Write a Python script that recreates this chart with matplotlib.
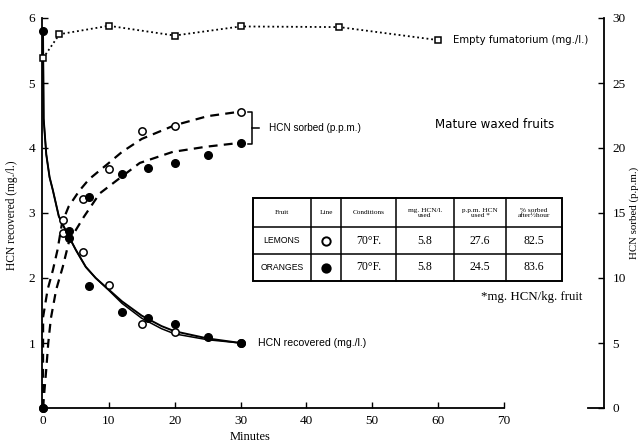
import matplotlib
matplotlib.use("Agg")
import matplotlib.pyplot as plt
from matplotlib.lines import Line2D
from matplotlib.patches import Rectangle

# ---------------- data ----------------
# Empty fumatorium (mg./l.)
t_fum = [0, 2.5, 10, 20, 30, 45, 60]
y_fum = [5.38, 5.75, 5.88, 5.73, 5.87, 5.86, 5.66]

# HCN recovered (mg./l.) - measured points
t_rec_lemon = [3, 6, 10, 15, 20, 30]
y_rec_lemon = [2.69, 2.40, 1.90, 1.29, 1.17, 1.00]
t_rec_orange = [0, 4, 7, 12, 16, 20, 25, 30]
y_rec_orange = [5.80, 2.62, 1.87, 1.48, 1.38, 1.29, 1.09, 1.00]

# HCN recovered - fitted curves
t_rec_curve = [0, 0.1, 0.5, 1, 1.5, 2.4, 3.5, 5, 6.5, 8, 10, 12, 15, 18, 20, 25, 30]
y_rec_curve_orange = [5.8, 4.45, 3.9, 3.55, 3.35, 2.95, 2.72, 2.43, 2.17, 2.0, 1.82,
                      1.64, 1.42, 1.26, 1.18, 1.07, 1.0]
y_rec_curve_lemon = [5.8, 4.45, 3.9, 3.55, 3.35, 2.95, 2.72, 2.43, 2.17, 2.0, 1.81,
                     1.61, 1.38, 1.22, 1.14, 1.05, 1.0]

# HCN sorbed (p.p.m.) - measured points
t_sorb_lemon = [0, 3, 6, 10, 15, 20, 30]
y_sorb_lemon = [0, 14.45, 16.1, 18.35, 21.3, 21.7, 22.8]
t_sorb_orange = [0, 4, 7, 12, 16, 20, 25, 30]
y_sorb_orange = [0, 13.6, 16.25, 18.0, 18.45, 18.85, 19.5, 20.35]

# HCN sorbed - fitted curves
t_sorb_curve_lemon = [0, 0.02, 0.7, 1.5, 2.2, 2.9, 3.9, 5.5, 7, 10, 12, 15, 20, 25, 30]
y_sorb_curve_lemon = [0, 7.0, 9.1, 10.6, 12.15, 14.25, 15.5, 16.7, 17.6, 18.85,
                      19.7, 20.7, 21.75, 22.45, 22.8]
t_sorb_curve_orange = [0, 0.5, 0.8, 1.2, 2.0, 3.0, 3.9, 5.0, 6.2, 8.6, 11.7, 14.7, 19.7, 24.8, 30]
y_sorb_curve_orange = [0, 3.0, 5.0, 6.9, 9.1, 10.85, 12.7, 13.7, 14.7, 16.5, 17.7,
                       18.85, 19.7, 20.1, 20.4]

# Axis ticks
x_ticks = [0, 10, 20, 30, 40, 50, 60, 70]
y_left_ticks = [1, 2, 3, 4, 5, 6]
y_right_ticks = [0, 5, 10, 15, 20, 25, 30]

# Table contents
table_header = ["Fruit", "Line", "Conditions", "mg. HCN/l.\nused",
                "p.p.m. HCN\nused *", "% sorbed\nafter½hour"]
table_fruits = ["LEMONS", "ORANGES"]
table_conditions = ["70°F.", "70°F."]
table_mg_used = ["5.8", "5.8"]
table_ppm_used = ["27.6", "24.5"]
table_pct_sorbed = ["82.5", "83.6"]

# ---------------- figure ----------------
W, H = 639, 443
SERIF = ["Liberation Serif", "DejaVu Serif"]
SANS = ["Liberation Sans", "DejaVu Sans"]
WIDE_SANS = ["DejaVu Sans"]

fig = plt.figure(figsize=(W / 100, H / 100), dpi=100)
fig.patch.set_facecolor("white")

def fx(px):
    return px / W

def fy(py):
    return 1 - py / H

ax_l, ax_r, ax_t, ax_b = 42, 504, 18, 408
ax = fig.add_axes([fx(ax_l), fy(ax_b), (ax_r - ax_l) / W, (ax_b - ax_t) / H])
ax.set_xlim(-0.15, 70)
ax.set_ylim(0, 6)
ax.patch.set_alpha(0)

ax2 = ax.twinx()
ax2.set_ylim(0, 30)
ax2.spines["right"].set_position(("axes", (604 - ax_l) / (ax_r - ax_l)))
for s in ["top", "left", "bottom"]:
    ax2.spines[s].set_visible(False)
ax2.spines["right"].set_linewidth(1.3)

for s in ["top", "right"]:
    ax.spines[s].set_visible(False)
ax.spines["left"].set_linewidth(1.3)
ax.spines["bottom"].set_linewidth(1.3)

ax.set_xticks(x_ticks)
ax.set_xticklabels([str(v) for v in x_ticks], family=SERIF, fontsize=9.5)
ax.set_yticks(y_left_ticks)
ax.set_yticklabels([str(v) for v in y_left_ticks], family=SERIF, fontsize=9.5)
ax.tick_params(axis="both", direction="in", length=4, width=1.0, pad=5)
ax2.set_yticks(y_right_ticks)
ax2.set_yticklabels([str(v) for v in y_right_ticks], family=SERIF, fontsize=9.5)
ax2.tick_params(axis="y", direction="in", length=4, width=1.0, pad=6)

ax.set_xlabel("Minutes", family=SERIF, fontsize=9)
ax.xaxis.set_label_coords((250 - ax_l) / (ax_r - ax_l), (ax_b - 437) / (ax_b - ax_t))
ax.xaxis.label.set_va("center")
fig.text(fx(12), fy(215), "HCN recovered (mg./l.)", rotation=90, family=SERIF,
         fontsize=8.3, ha="center", va="center")
fig.text(fx(634), fy(213), "HCN sorbed (p.p.m.)", rotation=90, family=SERIF,
         fontsize=7.8, ha="center", va="center")

# Small horizontal foot at bottom of right axis
fig.add_artist(Line2D([fx(588), fx(604)], [fy(408), fy(408)], color="black", lw=1.3))

# ---------------- series ----------------
# Empty fumatorium
ax.plot(t_fum, y_fum, linestyle=(0, (1, 1.6)), color="black", lw=1.3,
        marker="s", markersize=5, markerfacecolor="white", markeredgecolor="black",
        markeredgewidth=1.1, clip_on=False, zorder=5)

# Recovered curves (solid)
ax.plot(t_rec_curve, y_rec_curve_orange, color="black", lw=1.4, zorder=3, clip_on=False)
ax.plot(t_rec_curve, y_rec_curve_lemon, color="black", lw=1.1, zorder=3, clip_on=False)

# Sorbed curves (dashed, right axis)
ax2.plot(t_sorb_curve_lemon, y_sorb_curve_lemon, color="black", lw=1.6,
         linestyle=(0, (4, 2.8)), zorder=3, clip_on=False)
ax2.plot(t_sorb_curve_orange, y_sorb_curve_orange, color="black", lw=1.6,
         linestyle=(0, (4, 2.8)), zorder=3, clip_on=False)

# Markers
ax.plot(t_rec_lemon, y_rec_lemon, linestyle="none", marker="o", markersize=5.3,
        markerfacecolor="white", markeredgecolor="black", markeredgewidth=1.1,
        zorder=6, clip_on=False)
ax.plot(t_rec_orange, y_rec_orange, linestyle="none", marker="o", markersize=5.5,
        markerfacecolor="black", markeredgecolor="black", zorder=6, clip_on=False)
ax2.plot(t_sorb_lemon, y_sorb_lemon, linestyle="none", marker="o", markersize=5.3,
         markerfacecolor="white", markeredgecolor="black", markeredgewidth=1.1,
         zorder=6, clip_on=False)
ax2.plot(t_sorb_orange, y_sorb_orange, linestyle="none", marker="o", markersize=5.5,
         markerfacecolor="black", markeredgecolor="black", zorder=6, clip_on=False)

# ---------------- annotations ----------------
fig.text(fx(453), fy(40), "Empty fumatorium (mg./l.)", family=WIDE_SANS, fontsize=7.3,
         ha="left", va="center")
fig.text(fx(269), fy(128), "HCN sorbed (p.p.m.)", family=SANS, fontsize=7.2,
         ha="left", va="center")
fig.text(fx(258), fy(343), "HCN recovered (mg./l.)", family=SANS, fontsize=7.6,
         ha="left", va="center")
fig.text(fx(435), fy(124), "Mature waxed fruits", family=WIDE_SANS, fontsize=8.6,
         ha="left", va="center")

# bracket for HCN sorbed
bx = 252
fig.add_artist(Line2D([fx(bx - 4), fx(bx), fx(bx), fx(bx - 4)],
                      [fy(112), fy(112), fy(144), fy(144)], color="black", lw=1.1))
fig.add_artist(Line2D([fx(bx), fx(bx + 7)], [fy(128), fy(128)], color="black", lw=1.1))

# ---------------- table ----------------
col_edges = [253, 311, 341, 396, 454, 506, 562]
row_edges = [198, 227, 254, 281]

fig.add_artist(Rectangle((fx(col_edges[0]), fy(row_edges[-1])),
                         (col_edges[-1] - col_edges[0]) / W,
                         (row_edges[-1] - row_edges[0]) / H,
                         transform=fig.transFigure, fill=False, lw=1.4,
                         edgecolor="black"))
for cx in col_edges[1:-1]:
    fig.add_artist(Line2D([fx(cx), fx(cx)], [fy(row_edges[0]), fy(row_edges[-1])],
                          color="black", lw=1.1))
for ry in row_edges[1:-1]:
    fig.add_artist(Line2D([fx(col_edges[0]), fx(col_edges[-1])], [fy(ry), fy(ry)],
                          color="black", lw=1.1))

def ccx(i):
    return fx((col_edges[i] + col_edges[i + 1]) / 2)

def ccy(j):
    return fy((row_edges[j] + row_edges[j + 1]) / 2)

for i, h in enumerate(table_header):
    fig.text(ccx(i), ccy(0), h, family=SERIF, fontsize=5.2, ha="center",
             va="center", linespacing=1.0)

row_markers = ["white", "black"]
for j in range(2):
    y = ccy(j + 1)
    fig.text(ccx(0), y, table_fruits[j], family=SANS, fontsize=6.2, ha="center",
             va="center")
    fig.add_artist(Line2D([ccx(1)], [y], marker="o", markersize=6,
                          markerfacecolor=row_markers[j], markeredgecolor="black",
                          markeredgewidth=1.4, linestyle="none"))
    fig.text(ccx(2), y, table_conditions[j], family=SERIF, fontsize=8.5,
             ha="center", va="center")
    fig.text(ccx(3), y, table_mg_used[j], family=SERIF, fontsize=8.5,
             ha="center", va="center")
    fig.text(ccx(4), y, table_ppm_used[j], family=SERIF, fontsize=8.5,
             ha="center", va="center")
    fig.text(ccx(5), y, table_pct_sorbed[j], family=SERIF, fontsize=8.5,
             ha="center", va="center")

fig.text(fx(582), fy(297), "*mg. HCN/kg. fruit", family=SERIF, fontsize=9.3,
         ha="right", va="center")

fig.savefig("out.png", dpi=100)
